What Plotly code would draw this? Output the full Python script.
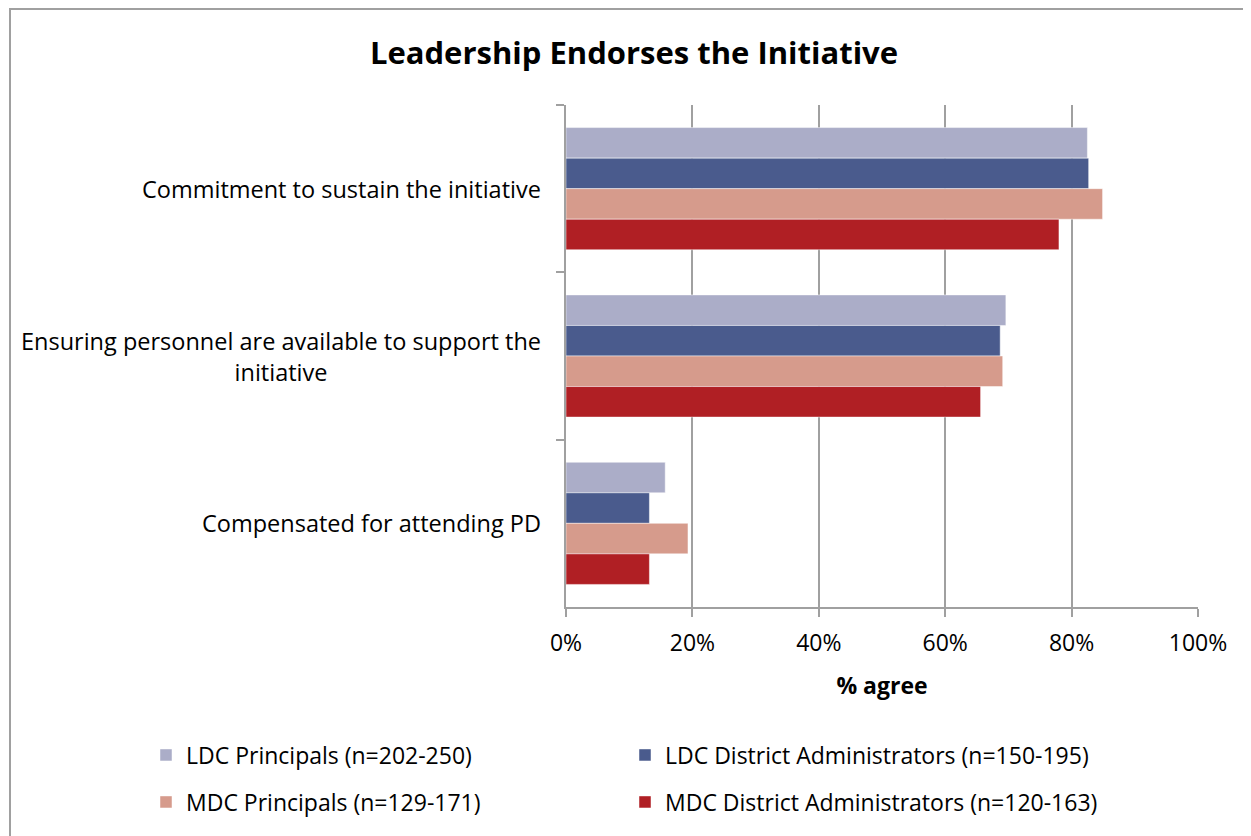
import plotly.graph_objects as go

# survey items, top to bottom
items = [
    "Commitment to sustain the initiative",
    "Ensuring personnel are available to support the<br>initiative",
    "Compensated for attending PD",
]

groups = [
    "LDC Principals (n=202-250)",
    "LDC District Administrators (n=150-195)",
    "MDC Principals (n=129-171)",
    "MDC District Administrators (n=120-163)",
]

# % agree, one list per group, same order as items
ldc_principals = [82.5, 69.6, 15.7]
ldc_district = [82.7, 68.7, 13.2]
mdc_principals = [84.9, 69.1, 19.3]
mdc_district = [78.0, 65.6, 13.2]

colors = ["#abadc8", "#4a5b8d", "#d69b8c", "#b01f24"]

FONT = "Open Sans, sans-serif"
GRID = "#a0a0a0"
OFF = 8  # page offset of the plot div

W, H = 1243, 828
L, R, T, B = 558, 53, 97, 229
pw, ph = W - L - R, H - T - B


def px_x(x):
    return (x - OFF - L) / pw


def px_y(y):
    return (H - B - (y - OFF)) / ph


fig = go.Figure()
series = [ldc_principals, ldc_district, mdc_principals, mdc_district]
for i, (name, vals, col) in enumerate(zip(groups, series, colors)):
    fig.add_trace(go.Bar(
        y=items, x=vals, name=name, orientation="h",
        legend="legend" if i < 2 else "legend2",
        marker=dict(color=col, line=dict(color="rgba(255,255,255,0.6)", width=0.8)),
    ))

# category labels (centred multi-line like the original)
for it in items:
    fig.add_annotation(
        text=it, xref="paper", yref="y", x=px_x(543), y=it,
        xanchor="right", yanchor="middle", align="center", showarrow=False,
        font=dict(family=FONT, size=23.5, color="black"),
    )

# outer chart frame
fig.add_shape(type="rect", xref="paper", yref="paper",
              x0=px_x(10), x1=px_x(1300), y0=px_y(900), y1=px_y(9),
              line=dict(color="#a0a0a0", width=2), layer="below")

leg = dict(orientation="h", x=px_x(146), xanchor="left", yanchor="middle",
           entrywidth=434, entrywidthmode="pixels",
           font=dict(family=FONT, size=23, color="black"),
           traceorder="normal", bgcolor="rgba(0,0,0,0)")

fig.update_layout(
    width=W, height=H,
    margin=dict(l=L, r=R, t=T, b=B),
    paper_bgcolor="white", plot_bgcolor="white",
    font=dict(family=FONT, size=23, color="black"),
    barmode="group", bargap=0.27, bargroupgap=0,
    title=dict(text="<b>Leadership Endorses the Initiative</b>",
               x=(634 - OFF) / W, xanchor="center",
               y=1 - (53 - OFF) / H, yanchor="middle",
               font=dict(family=FONT, size=31, color="black")),
    xaxis=dict(range=[0, 100], tickvals=[0, 20, 40, 60, 80, 100],
               ticktext=["0%", "20%", "40%", "60%", "80%", "100%"],
               showgrid=True, gridcolor=GRID, gridwidth=1.5,
               showline=True, linecolor=GRID, linewidth=1.5,
               ticks="outside", ticklen=8, tickcolor=GRID, tickwidth=1.5,
               ticklabelstandoff=7, zeroline=False,
               title=dict(text="<b>% agree</b>", standoff=21,
                          font=dict(family=FONT, size=23))),
    yaxis=dict(autorange="reversed", showticklabels=False,
               showgrid=False, showline=True, linecolor=GRID, linewidth=1.5,
               ticks="outside", ticklen=8, tickcolor=GRID, tickwidth=1.5,
               tickson="boundaries"),
    legend=dict(leg, y=px_y(755)),
    legend2=dict(leg, y=px_y(802)),
    showlegend=True,
)

fig.write_html("out.html")
